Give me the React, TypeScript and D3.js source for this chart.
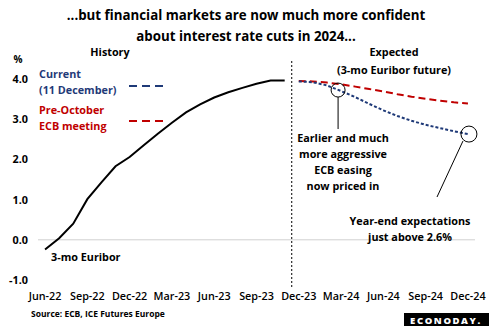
import React from "react";
import * as d3 from "d3";

const months = [
  "Jun-22","Jul-22","Aug-22","Sep-22","Oct-22","Nov-22","Dec-22",
  "Jan-23","Feb-23","Mar-23","Apr-23","May-23","Jun-23","Jul-23","Aug-23","Sep-23","Oct-23","Nov-23","Dec-23",
  "Jan-24","Feb-24","Mar-24","Apr-24","May-24","Jun-24","Jul-24","Aug-24","Sep-24","Oct-24","Nov-24","Dec-24",
];
const historyMonths = months.slice(0, 18);
const historyValues = [-0.24, 0.04, 0.40, 1.01, 1.43, 1.83, 2.06, 2.35, 2.64, 2.91, 3.17, 3.37, 3.54, 3.67, 3.78, 3.88, 3.96, 3.96];
const expectedMonths = months.slice(18);
const currentValues = [3.94, 3.92, 3.84, 3.70, 3.55, 3.38, 3.22, 3.08, 2.96, 2.86, 2.78, 2.70, 2.63];
const preOctoberValues = [3.95, 3.94, 3.91, 3.87, 3.81, 3.75, 3.69, 3.62, 3.56, 3.51, 3.46, 3.42, 3.39];
const yTicks = [-1, 0, 1, 2, 3, 4];
const xTickLabels = ["Jun-22","Sep-22","Dec-22","Mar-23","Jun-23","Sep-23","Dec-23","Mar-24","Jun-24","Sep-24","Dec-24"];

const NAVY = "#1F3A78";
const RED = "#C00000";
const FONT = "'Open Sans', 'Liberation Sans', sans-serif";
const FS = 10.8;

export default function App() {
  const W = 489, H = 326;
  const x = d3.scaleBand<string>().domain(months).range([38, 475]);
  const y = d3.scaleLinear().domain([-1, 4]).range([280, 79]);
  const cx = (m: string) => (x(m) as number) + x.bandwidth() / 2;

  const line = d3.line<[string, number]>().x((d) => cx(d[0])).y((d) => y(d[1]));
  const histPath = line(historyMonths.map((m, i) => [m, historyValues[i]]))!;
  const curPath = line(expectedMonths.map((m, i) => [m, currentValues[i]]))!;
  const prePath = line(expectedMonths.map((m, i) => [m, preOctoberValues[i]]))!;

  const divX = x("Dec-23") as number;
  const mar24 = [cx("Mar-24"), y(currentValues[3])];
  const dec24 = [cx("Dec-24"), y(currentValues[12])];

  return (
    <svg width={W} height={H} style={{ position: "absolute", left: 0, top: 0, background: "#fff" }} fontFamily={FONT}>
      <rect width={W} height={H} fill="#fff" />
      {/* Title */}
      <text x={246} y={20} textAnchor="middle" fontSize={13.3} fontWeight={700} fill="#000">...but financial markets are now much more confident</text>
      <text x={246} y={41} textAnchor="middle" fontSize={13.3} fontWeight={700} fill="#000">about interest rate cuts in 2024...</text>

      {/* zero line */}
      <line x1={38} x2={475} y1={y(0)} y2={y(0)} stroke="#d0d0d0" strokeWidth={1} />

      {/* y ticks */}
      {yTicks.map((t) => (
        <text key={t} x={28} y={y(t) + 4} textAnchor="end" fontSize={FS} fontWeight={700} fill="#000">{t.toFixed(1)}</text>
      ))}
      <text x={18} y={63} textAnchor="middle" fontSize={10} fontWeight={700}>%</text>

      {/* x ticks */}
      {xTickLabels.map((m) => (
        <text key={m} x={cx(m)} y={300} textAnchor="middle" fontSize={FS} fontWeight={600} fill="#000">{m}</text>
      ))}

      {/* divider */}
      <line x1={divX} x2={divX} y1={61} y2={289} stroke="#000" strokeWidth={1} strokeDasharray="2,2" />

      {/* section labels */}
      <text x={110} y={56} textAnchor="middle" fontSize={FS} fontWeight={700}>History</text>
      <text x={394} y={56} textAnchor="middle" fontSize={FS} fontWeight={700}>Expected</text>
      <text x={394} y={74} textAnchor="middle" fontSize={FS} fontWeight={700}>(3-mo Euribor future)</text>

      {/* lines */}
      <path d={histPath} fill="none" stroke="#000" strokeWidth={2} />
      <path d={prePath} fill="none" stroke={RED} strokeWidth={2} strokeDasharray="7,4" />
      <path d={curPath} fill="none" stroke={NAVY} strokeWidth={2} strokeDasharray="3,2" />

      {/* legend */}
      <text x={39} y={78} fontSize={FS} fontWeight={700} fill={NAVY}>Current</text>
      <text x={39} y={94} fontSize={FS} fontWeight={700} fill={NAVY}>(11 December)</text>
      <line x1={129} x2={166} y1={86} y2={86} stroke={NAVY} strokeWidth={2} strokeDasharray="8,5" />
      <text x={39} y={114} fontSize={FS} fontWeight={700} fill={RED}>Pre-October</text>
      <text x={39} y={130} fontSize={FS} fontWeight={700} fill={RED}>ECB meeting</text>
      <line x1={129} x2={166} y1={121} y2={121} stroke={RED} strokeWidth={2} strokeDasharray="8,5" />

      <text x={51} y={261} fontSize={FS} fontWeight={700}>3-mo Euribor</text>

      {/* annotation 1 */}
      <circle cx={mar24[0] - 3} cy={mar24[1] - 1} r={7} fill="none" stroke="#000" strokeWidth={1} />
      <line x1={mar24[0] - 3} x2={mar24[0] - 3} y1={mar24[1] + 6} y2={129} stroke="#000" strokeWidth={1} />
      {["Earlier and much", "more aggressive", "ECB easing", "now priced in"].map((s, i) => (
        <text key={s} x={343} y={142 + i * 16} textAnchor="middle" fontSize={FS} fontWeight={700}>{s}</text>
      ))}

      {/* annotation 2 */}
      <circle cx={dec24[0] + 1} cy={dec24[1]} r={8} fill="none" stroke="#000" strokeWidth={1} />
      <line x1={dec24[0] - 5} x2={437} y1={dec24[1] + 7} y2={197} stroke="#000" strokeWidth={1} />
      <text x={410} y={225} textAnchor="middle" fontSize={FS} fontWeight={700}>Year-end expectations</text>
      <text x={410} y={241} textAnchor="middle" fontSize={FS} fontWeight={700}>just above 2.6%</text>

      {/* source */}
      <text x={31} y={317} fontSize={8.5} fontWeight={700}>Source: ECB, ICE Futures Europe</text>

      {/* logo */}
      <rect x={404} y={313} width={85} height={14} fill="#000" />
      <text x={446} y={324} textAnchor="middle" fontSize={9.5} fontWeight={800} fill="#fff" letterSpacing={1.6}>ECONODAY.</text>
    </svg>
  );
}
